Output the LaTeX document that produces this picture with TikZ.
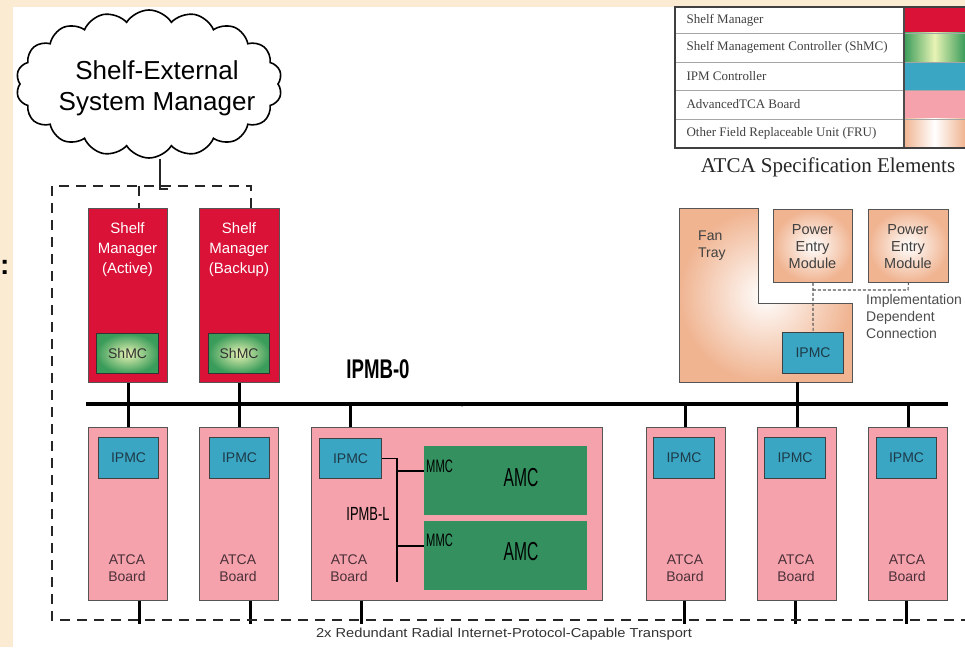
\documentclass[tikz,border=0pt]{standalone}
\usepackage{fontspec}
\usepackage{graphicx}
\setmainfont{Liberation Sans}
\newfontfamily\tms{Liberation Serif}
\usetikzlibrary{shapes.symbols}
\definecolor{beige}{HTML}{FBEBD2}
\definecolor{smred}{HTML}{DA1238}
\definecolor{shgreen}{HTML}{3A9C5A}
\definecolor{shlight}{HTML}{E8F3B4}
\definecolor{ipmcteal}{HTML}{3AA6C3}
\definecolor{boardpink}{HTML}{F6A2AD}
\definecolor{amcg}{HTML}{34915F}
\definecolor{peach}{HTML}{F0B491}
\definecolor{boxline}{HTML}{555555}
\definecolor{boardtext}{HTML}{4A3038}
\definecolor{ipmctext}{HTML}{1E3A48}
\newcommand\fsz[2]{\fontsize{#1}{#2}\selectfont}
\tikzset{
  box/.style={draw=boxline, line width=0.9pt, inner sep=0pt, anchor=north west},
  smbox/.style={box, fill=smred},
  shmc/.style={box, draw=black!80, line width=1.2pt, inner color=shlight, outer color=shgreen, font=\fsz{14}{16}, text=black!80},
  ipmc/.style={box, draw=black!75, line width=1.1pt, fill=ipmcteal, font=\fsz{14}{16}, text=ipmctext},
  board/.style={box, fill=boardpink},
  fru/.style={box, inner color=white, outer color=peach},
  amc/.style={fill=amcg, inner sep=0pt, anchor=north west},
  smtext/.style={align=center, text=white, font=\fsz{15}{20}},
  bdtext/.style={align=center, text=boardtext, font=\fsz{14}{17}},
  frutext/.style={align=center, text=black!75, font=\fsz{14.5}{17}},
  conn/.style={line width=3pt, black},
  busline/.style={line width=4pt, black},
  dashline/.style={line width=2.6pt, black!85, dash pattern=on 10pt off 7pt},
  impl/.style={line width=1.1pt, black!65, dash pattern=on 3pt off 2pt},
  ipmbl/.style={line width=1.3pt, black},
  legtext/.style={anchor=west, font=\tms\fsz{13}{15}, text=black!75},
}
\begin{document}
\begin{tikzpicture}[x=1pt,y=-1pt]
\useasboundingbox (0,0) rectangle (965,647);
\fill[beige] (0,0) rectangle (965,647);
\fill[white] (13,7) rectangle (965,647);
\node[font=\bfseries\fsz{28}{28}, anchor=west, inner sep=0pt] (cut) at (0,267) {:};

% cloud
\node[cloud, draw, line width=1.6pt, cloud puffs=18, cloud puff arc=115, cloud ignores aspect,
      minimum width=266pt, minimum height=148pt, inner sep=0pt] (cloud) at (149,84) {};
\node[align=center, font=\fsz{26}{31}] (cloudt) at (157,88) {Shelf-External\\System Manager};

% shelf managers
\node[smbox, minimum width=79pt, minimum height=174pt] (sm1) at (88,208) {};
\node[smbox, minimum width=80pt, minimum height=174pt] (sm2) at (199,208) {};
\node[smtext] (sm1t) at (127.5,250) {Shelf\\Manager\\(Active)};
\node[smtext] (sm2t) at (239,250) {Shelf\\Manager\\(Backup)};
\node[shmc, minimum width=62pt, minimum height=40pt] (shmc1) at (96,333) {ShMC};
\node[shmc, minimum width=61pt, minimum height=40pt] (shmc2) at (208,333) {ShMC};

% fan tray
\path[draw=boxline, line width=0.9pt, inner color=white, outer color=peach]
  (679,208) -- (758,208) -- (758,303) -- (852,303) -- (852,382) -- (679,382) -- cycle;
\node[anchor=north west, align=left, text=black!75, font=\fsz{14}{17}, inner sep=0pt] (fant) at (698,231) {Fan\\Tray};
\node[fru, minimum width=79pt, minimum height=73pt] (pem1) at (773,209) {};
\node[fru, minimum width=80pt, minimum height=73pt] (pem2) at (868,209) {};
\node[frutext] (pem1t) at (812.5,247) {Power\\Entry\\Module};
\node[frutext] (pem2t) at (908,247) {Power\\Entry\\Module};
\node[ipmc, minimum width=61pt, minimum height=41pt] (fipmc) at (782,332) {IPMC};
\coordinate (ih) at (908,290);
\draw[impl] (pem1.south) -- (fipmc.north);
\draw[impl] (pem1.south |- ih) -- (ih) -- (pem2.south);
\node[anchor=north west, align=left, text=black!70, font=\fsz{14}{17}, inner sep=0pt] (implt) at (866,294) {Implementation\\Dependent\\Connection};
\coordinate (fanb) at (797,382);

% bus
\coordinate (busL) at (86,404);
\coordinate (busR) at (948,404);
\draw[busline] (busL) -- (busR);
\fill (462,405) circle (1.6pt);
\node[font=\bfseries\fsz{27}{30}] (ipmb0) at (378,369) {\scalebox{0.69}[1]{IPMB-0}};

% boards
\node[board, minimum width=79pt, minimum height=173pt] (b1) at (88,427) {};
\node[board, minimum width=79pt, minimum height=173pt] (b2) at (199,427) {};
\node[board, minimum width=291pt, minimum height=173pt] (b3) at (311,427) {};
\node[board, minimum width=79pt, minimum height=173pt] (b4) at (646,427) {};
\node[board, minimum width=79pt, minimum height=173pt] (b5) at (757,427) {};
\node[board, minimum width=79pt, minimum height=173pt] (b6) at (868,427) {};

\node[ipmc, minimum width=60pt, minimum height=41pt] (i1) at (98,437) {IPMC};
\node[ipmc, minimum width=60pt, minimum height=41pt] (i2) at (209,437) {IPMC};
\node[ipmc, minimum width=62pt, minimum height=40pt] (i3) at (319,438) {IPMC};
\node[ipmc, minimum width=61pt, minimum height=41pt] (i4) at (653,437) {IPMC};
\node[ipmc, minimum width=61pt, minimum height=41pt] (i5) at (764,437) {IPMC};
\node[ipmc, minimum width=60pt, minimum height=41pt] (i6) at (876,437) {IPMC};

\node[bdtext] (bt1) at (127,568.5) {ATCA\\Board};
\node[bdtext] (bt2) at (238,568.5) {ATCA\\Board};
\node[bdtext] (bt3) at (349,568.5) {ATCA\\Board};
\node[bdtext] (bt4) at (685,568.5) {ATCA\\Board};
\node[bdtext] (bt5) at (796,568.5) {ATCA\\Board};
\node[bdtext] (bt6) at (907,568.5) {ATCA\\Board};

% AMCs
\node[amc, minimum width=163pt, minimum height=69pt] (amc1) at (424,446) {};
\node[amc, minimum width=163pt, minimum height=69pt] (amc2) at (424,521) {};
\node[font=\fsz{26}{28}] (amc1t) at (521,478) {\scalebox{0.6}[1]{AMC}};
\node[font=\fsz{26}{28}] (amc2t) at (521,552) {\scalebox{0.6}[1]{AMC}};
\node[anchor=west, inner sep=0pt, font=\fsz{18}{20}] (mmc1) at (426,466) {\scalebox{0.62}[1]{MMC}};
\node[anchor=west, inner sep=0pt, font=\fsz{18}{20}] (mmc2) at (426,540) {\scalebox{0.62}[1]{MMC}};
\node[font=\fsz{19}{21}] (ipmbl) at (368,514) {\scalebox{0.68}[1]{IPMB-L}};
\coordinate (vl) at (397,582);
\coordinate (br1) at (397,471);
\coordinate (br2) at (397,546);
\draw[ipmbl] (i3.east) -- (vl |- i3.east) -- (vl);
\draw[ipmbl] (br1) -- (br1 -| amc1.west);
\draw[ipmbl] (br2) -- (br2 -| amc2.west);

% connectors to bus
\coordinate (x1) at (128,404);
\coordinate (x2) at (239,404);
\coordinate (x3) at (350,404);
\coordinate (x4) at (685,404);
\coordinate (x5) at (797,404);
\coordinate (x6) at (908,404);
\draw[conn] (x1 |- sm1.south) -- (x1 |- b1.north);
\draw[conn] (x2 |- sm2.south) -- (x2 |- b2.north);
\draw[conn] (x3) -- (x3 |- b3.north);
\draw[conn] (x4) -- (x4 |- b4.north);
\draw[conn] (fanb) -- (x5 |- b5.north);
\draw[conn] (x6) -- (x6 |- b6.north);

% connectors to transport
\coordinate (d1) at (139,620);
\coordinate (d2) at (250,620);
\coordinate (d3) at (361,620);
\coordinate (d4) at (684,620);
\coordinate (d5) at (795,620);
\coordinate (d6) at (906,620);
\draw[conn] (d1 |- b1.south) -- ([yshift=-4pt]d1);
\draw[conn] (d2 |- b2.south) -- ([yshift=-4pt]d2);
\draw[conn] (d3 |- b3.south) -- ([yshift=-4pt]d3);
\draw[conn] (d4 |- b4.south) -- ([yshift=-4pt]d4);
\draw[conn] (d5 |- b5.south) -- ([yshift=-4pt]d5);
\draw[conn] (d6 |- b6.south) -- ([yshift=-4pt]d6);

% dashed shelf boundary
\coordinate (tL) at (52,186);
\coordinate (tR) at (251,186);
\coordinate (tC) at (160,186);
\coordinate (tA) at (139,186);
\coordinate (bL) at (52,620);
\coordinate (bR) at (970,620);
\draw[dashline] (tR |- sm2.north) -- (tR) -- (tL) -- (bL) -- (bR);
\draw[dashline] (tA) -- (tA |- sm1.north);
\draw[line width=2pt, black!85] (tC |- cloud.south) -- ([yshift=-3pt]tC) -- ([xshift=8pt,yshift=-3pt]tC);
\node[font=\fsz{13}{14}, text=black!80] (capt) at (504,634) {\scalebox{1.13}[1]{2x Redundant Radial Internet-Protocol-Capable Transport}};

% legend
\fill[smred] (904,7) rectangle (965,33);
\shade[left color=shgreen, right color=shgreen, middle color=shlight] (904,33) rectangle (965,62);
\fill[ipmcteal] (904,62) rectangle (965,90);
\fill[boardpink] (904,90) rectangle (965,119);
\shade[left color=peach, right color=peach, middle color=white] (904,119) rectangle (965,148);
\draw[black!35, line width=0.8pt] (675,33) -- (965,33) (675,62) -- (965,62) (675,90) -- (965,90) (675,119) -- (965,119);
\draw[black!70, line width=1.1pt] (904,7) -- (904,148);
\draw[black!75, line width=1.4pt] (965,7) -- (675,7) -- (675,148) -- (965,148);
\node[legtext] (l1) at (683,20) {Shelf Manager};
\node[legtext] (l2) at (683,47.5) {Shelf Management Controller (ShMC)};
\node[legtext] (l3) at (683,76) {IPM Controller};
\node[legtext] (l4) at (683,104.5) {AdvancedTCA Board};
\node[legtext] (l5) at (683,133.5) {Other Field Replaceable Unit (FRU)};
\node[font=\tms\fsz{21}{24}, text=black!85] (legt) at (828,167) {ATCA Specification Elements};
\end{tikzpicture}
\end{document}
